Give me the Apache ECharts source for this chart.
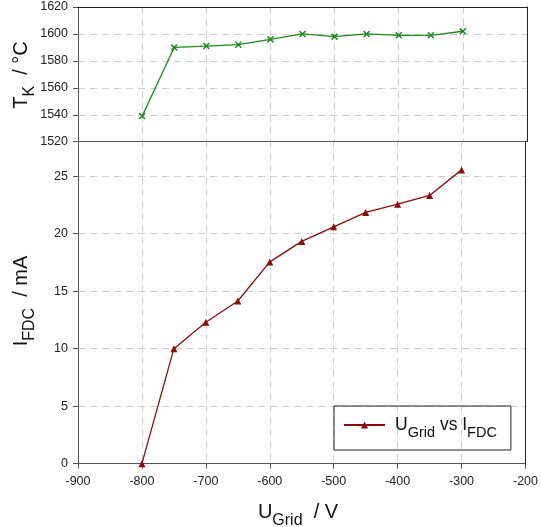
<!DOCTYPE html>
<html>
<head>
<meta charset="utf-8">
<script src="https://cdn.jsdelivr.net/npm/echarts@6/dist/echarts.min.js"></script>
<style>
html,body{margin:0;padding:0;background:#fff;}
#chart{width:541px;height:527px;}
</style>
</head>
<body>
<div id="chart"></div>
<script>
// ---- data ----
const gridVoltage = [-800, -750, -700, -650, -600, -550, -500, -450, -400, -350, -300];
const cathodeTemp = [1539, 1590, 1591, 1592, 1596, 1600, 1598, 1600, 1599, 1599, 1602];
const fdcCurrent = [0, 10, 12.3, 14.15, 17.55, 19.33, 20.6, 21.85, 22.57, 23.33, 25.55];
const xTicks = [-900, -800, -700, -600, -500, -400, -300, -200];
const tempTicks = [1520, 1540, 1560, 1580, 1600, 1620];
const currentTicks = [0, 5, 10, 15, 20, 25];

const FONT = '"Liberation Sans", Arial, sans-serif';
const tempPairs = gridVoltage.map((v, i) => [v, cathodeTemp[i]]);
const currPairs = gridVoltage.map((v, i) => [v, fdcCurrent[i]]);

const dashed = {show: true, lineStyle: {color: '#cfcfcf', width: 1, type: [7, 5]}};
const plain = function (v) { return String(v); };
const labelStyle = {color: '#222', fontFamily: FONT, fontSize: 12.5, formatter: plain};
const crossPath = 'path://M0,1.5 L1.5,0 L5,3.5 L8.5,0 L10,1.5 L6.5,5 L10,8.5 L8.5,10 L5,6.5 L1.5,10 L0,8.5 L3.5,5Z';

const titleRich = {
  m: {fontSize: 20, fontFamily: FONT, fill: '#111', lineHeight: 20, verticalAlign: 'top', padding: [0, 0, 8, 0]},
  s: {fontSize: 16, fontFamily: FONT, fill: '#111', lineHeight: 16, verticalAlign: 'top', padding: [11, 0, 0, 0]}
};

function borderAxis(gridIndex, position, mn, mx) {
  return {gridIndex: gridIndex, type: 'value', position: position, min: mn, max: mx, z: 10,
    axisLine: {show: true, onZero: false, lineStyle: {color: '#222', width: 1}},
    axisTick: {show: false}, axisLabel: {show: false}, splitLine: {show: false}};
}

const chart = echarts.init(document.getElementById('chart'), null, {renderer: 'canvas'});
chart.setOption({
  backgroundColor: '#fff',
  animation: false,
  grid: [
    {left: 78, top: 7, width: 449, height: 134.7, show: false},
    {left: 78, top: 141.7, width: 449, height: 322, show: false}
  ],
  xAxis: [
    {gridIndex: 0, type: 'value', min: xTicks[0], max: xTicks[xTicks.length - 1], interval: 100,
     axisLine: {show: true, onZero: false, lineStyle: {color: '#555', width: 1}}, axisTick: {show: false},
     axisLabel: {show: false}, splitLine: dashed},
    {gridIndex: 1, type: 'value', min: xTicks[0], max: xTicks[xTicks.length - 1], interval: 100,
     axisLine: {show: true, onZero: false, lineStyle: {color: '#555', width: 1}},
     axisTick: {show: true, length: 5, lineStyle: {color: '#555'}},
     axisLabel: Object.assign({margin: 11}, labelStyle), splitLine: dashed},
    Object.assign(borderAxis(0, 'top', xTicks[0], xTicks[xTicks.length - 1]))
  ],
  yAxis: [
    {gridIndex: 0, type: 'value', min: tempTicks[0], max: tempTicks[tempTicks.length - 1], interval: 20,
     axisLine: {show: true, onZero: false, lineStyle: {color: '#555', width: 1}},
     axisTick: {show: true, length: 5, lineStyle: {color: '#555'}},
     axisLabel: Object.assign({margin: 10}, labelStyle), splitLine: dashed},
    {gridIndex: 1, type: 'value', min: currentTicks[0], max: 28, interval: 5,
     axisLine: {show: true, onZero: false, lineStyle: {color: '#555', width: 1}},
     axisTick: {show: true, length: 5, lineStyle: {color: '#555'}},
     axisLabel: Object.assign({margin: 10, showMaxLabel: false}, labelStyle), splitLine: dashed},
    borderAxis(0, 'right', tempTicks[0], tempTicks[tempTicks.length - 1]),
    borderAxis(1, 'right', currentTicks[0], 28)
  ],
  legend: {
    data: ['fdc'],
    left: 334, top: 406,
    orient: 'horizontal',
    borderColor: '#222', borderWidth: 1,
    padding: [10, 14, 9, 9],
    itemWidth: 41, itemHeight: 9, itemGap: 0,
    formatter: function () { return '{m|U}{s|Grid}{m| vs I}{s|FDC}'; },
    textStyle: {
      color: '#111', fontFamily: FONT,
      rich: {
        m: {fontSize: 17.5, fontFamily: FONT, color: '#111', lineHeight: 18, verticalAlign: 'top', padding: [0, 0, 7, 0]},
        s: {fontSize: 14.5, fontFamily: FONT, color: '#111', lineHeight: 14, verticalAlign: 'top', padding: [9, 0, 0, 0]}
      },
      padding: [0, 0, 0, 5]
    }
  },
  graphic: [
    {type: 'text', x: 21, y: 75, rotation: Math.PI / 2, z: 100,
     style: {text: '{m|T}{s|K}{m|  / °C}', align: 'center', verticalAlign: 'middle', rich: titleRich}},
    {type: 'text', x: 21, y: 301, rotation: Math.PI / 2, z: 100,
     style: {text: '{m|I}{s|FDC}{m|  / mA}', align: 'center', verticalAlign: 'middle', rich: titleRich}},
    {type: 'text', x: 298, y: 512, z: 100,
     style: {text: '{m|U}{s|Grid}{m|  / V}', align: 'center', verticalAlign: 'middle', rich: titleRich}}
  ],
  series: [
    {name: 'temp', type: 'line', xAxisIndex: 0, yAxisIndex: 0, data: tempPairs,
     symbol: crossPath, symbolSize: 7, showAllSymbol: true,
     lineStyle: {color: '#1d8a1d', width: 1.3}, itemStyle: {color: '#1d8a1d'}},
    {name: 'fdc', type: 'line', xAxisIndex: 1, yAxisIndex: 1, data: currPairs,
     symbol: 'triangle', symbolSize: 7, showAllSymbol: true,
     lineStyle: {color: '#8b0c0c', width: 1.3}, itemStyle: {color: '#8b0c0c'}}
  ]
});
</script>
</body>
</html>
